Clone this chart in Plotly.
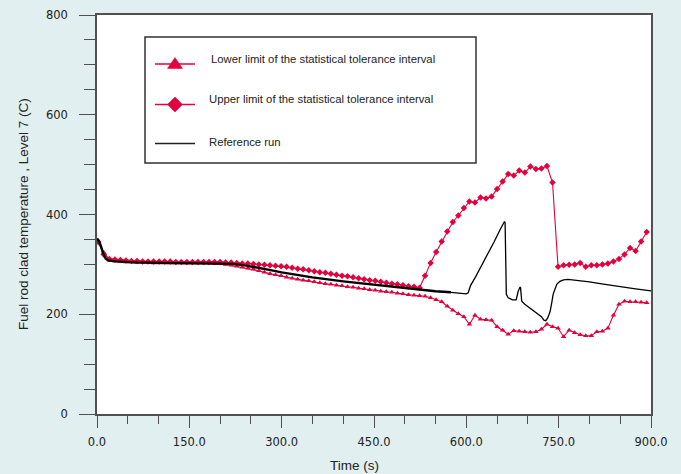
import plotly.graph_objects as go

# ---------------- data ----------------
time_ti = [2 + 9 * k for k in range(100)]  # tolerance-interval time grid (s)

upper_limit = [
    345, 320, 311, 310, 309, 308, 307, 307, 306, 306,
    306, 306, 306, 306, 305, 305, 305, 305, 305, 305,
    305, 305, 305, 304, 304, 303, 302, 302, 301, 300,
    299, 298, 297, 296, 295, 293, 291, 290, 288, 286,
    284, 283, 281, 279, 277, 276, 274, 272, 270, 268,
    267, 265, 263, 261, 260, 258, 256, 255, 253, 277,
    303, 325, 346, 366, 385, 398, 413, 426, 424, 434,
    432, 436, 451, 466, 481, 478, 488, 484, 496, 491,
    492, 497, 464, 295, 298, 299, 300, 303, 295, 298,
    298, 300, 302, 306, 311, 320, 333, 327, 346, 365,
]

lower_limit = [
    345, 324, 309, 307, 306, 305, 305, 304, 304, 304,
    303, 303, 303, 303, 303, 303, 303, 303, 303, 303,
    303, 302, 302, 300, 298, 296, 294, 292, 290, 287,
    284, 281, 279, 277, 274, 272, 270, 268, 267, 265,
    263, 261, 260, 258, 257, 255, 254, 252, 251, 249,
    248, 246, 245, 244, 242, 241, 239, 238, 237, 236,
    233, 229, 225, 216, 208, 201, 195, 180, 198, 190,
    189, 188, 175, 168, 160, 167, 166, 165, 164, 165,
    170, 180, 175, 172, 155, 168, 163, 159, 157, 157,
    165, 166, 172, 198, 220, 226, 225, 225, 224, 223,
]

time_ref = [0, 3, 6, 10, 14, 18, 30, 60, 100, 150, 200, 220, 240, 260, 280,
            300, 320, 350, 400, 450, 500, 550, 575, 600, 603, 607, 615, 625,
            635, 645, 655, 660, 662, 663, 664, 665, 668, 675, 681, 684, 687,
            688, 689, 690, 695, 705, 715, 722, 726, 729, 732, 736, 739, 741,
            744, 747, 752, 758, 765, 780, 800, 820, 850, 875, 900]
reference_run = [352, 347, 338, 322, 312, 308, 306, 304, 303, 302, 302, 301,
                 298, 294, 289, 284, 280, 274, 266, 259, 253, 246, 244, 241,
                 243, 258, 275, 298, 320, 345, 370, 384, 386, 383, 300, 240,
                 233, 229, 229, 245, 254, 254, 240, 226, 220, 211, 202, 195,
                 188, 187, 192, 205, 225, 240, 250, 260, 266, 269, 270, 268,
                 265, 261, 255, 251, 247]

x_tick_vals = [0, 150, 300, 450, 600, 750, 900]
y_tick_vals = [0, 200, 400, 600, 800]

series_names = ["Lower limit of the statistical tolerance interval",
                "Upper limit of the statistical tolerance interval",
                "Reference run"]

# ---------------- styling ----------------
RED = "#e3003c"
BG = "#e1eff0"
AXC = "#505050"
TXT = "#222222"

W, H = 681, 474
ML, MR, MT, MB = 97, 30, 15, 60
PW, PH = W - ML - MR, H - MT - MB


def px(xp):
    return (xp - ML) / PW


def py(yp):
    return (H - MB - yp) / PH


fig = go.Figure()

fig.add_trace(go.Scatter(
    x=time_ti, y=lower_limit, mode="lines+markers", name=series_names[0],
    line=dict(color=RED, width=1.1),
    marker=dict(symbol="triangle-up", size=5, color=RED),
    showlegend=False))

fig.add_trace(go.Scatter(
    x=time_ti, y=upper_limit, mode="lines+markers", name=series_names[1],
    line=dict(color=RED, width=1.1),
    marker=dict(symbol="diamond", size=5, color=RED),
    showlegend=False))

split = time_ref.index(575)
fig.add_trace(go.Scatter(
    x=time_ref[:split + 1], y=reference_run[:split + 1], mode="lines",
    name=series_names[2], line=dict(color="black", width=2.4),
    showlegend=False))
fig.add_trace(go.Scatter(
    x=time_ref[split:], y=reference_run[split:], mode="lines",
    name=series_names[2], line=dict(color="black", width=1.3),
    showlegend=False))

# ---------------- manual legend ----------------
shapes = []
annotations = []
shapes.append(dict(type="rect", xref="paper", yref="paper",
                   x0=px(145), x1=px(476), y0=py(163), y1=py(37),
                   line=dict(color="#333333", width=1.5),
                   fillcolor="white", layer="above"))
rows = [(64, 59, 209, RED, "tri"), (104.5, 99, 207, RED, "dia"),
        (143.5, 141.5, 207, "#222222", None)]
for (ly, ty, tx, col, mk), name in zip(rows, series_names):
    shapes.append(dict(type="line", xref="paper", yref="paper",
                       x0=px(155), x1=px(195), y0=py(ly), y1=py(ly),
                       line=dict(color=col, width=1.3), layer="above"))
    if mk == "tri":
        path = (f"M {px(175)},{py(57.5)} L {px(182.5)},{py(68.5)} "
                f"L {px(167.5)},{py(68.5)} Z")
    elif mk == "dia":
        path = (f"M {px(175)},{py(97)} L {px(182.5)},{py(104.5)} "
                f"L {px(175)},{py(112)} L {px(167.5)},{py(104.5)} Z")
    else:
        path = None
    if path:
        shapes.append(dict(type="path", xref="paper", yref="paper", path=path,
                           fillcolor=col, line=dict(color=col, width=0.5),
                           layer="above"))
    annotations.append(dict(text=name, xref="paper", yref="paper",
                            x=px(tx), y=py(ty), xanchor="left",
                            yanchor="middle", showarrow=False,
                            font=dict(family="Liberation Sans, Arial", size=11.3,
                                      color=TXT)))

# axis titles
annotations.append(dict(text="Time (s)", xref="paper", yref="paper",
                        x=px(354), y=py(465), xanchor="center",
                        yanchor="middle", showarrow=False,
                        font=dict(family="Liberation Sans, Arial", size=13.5,
                                  color=TXT)))
annotations.append(dict(text="Fuel rod clad temperature , Level 7 (C)",
                        xref="paper", yref="paper", x=px(23), y=py(214),
                        xanchor="center", yanchor="middle", textangle=-90,
                        showarrow=False,
                        font=dict(family="Liberation Sans, Arial", size=13.5,
                                  color=TXT)))

tickfont = dict(family="DejaVu Sans", size=11.5, color=TXT)

fig.update_layout(
    width=W, height=H,
    margin=dict(l=ML, r=MR, t=MT, b=MB, pad=0, autoexpand=False),
    paper_bgcolor=BG, plot_bgcolor="white",
    showlegend=False,
    shapes=shapes, annotations=annotations,
    xaxis=dict(range=[0, 900], tickvals=x_tick_vals, tickformat=".1f",
               ticks="outside", ticklen=12, tickwidth=1.3, tickcolor=AXC,
               showline=True, linecolor=AXC, linewidth=1.6, mirror=True,
               showgrid=False, zeroline=False, tickfont=tickfont,
               ticklabelstandoff=4, automargin=False,
               minor=dict(dtick=50, tick0=0, ticks="outside", ticklen=8,
                          tickwidth=1.3, tickcolor=AXC, showgrid=False)),
    yaxis=dict(range=[0, 800], tickvals=y_tick_vals,
               ticks="outside", ticklen=16, tickwidth=1.3, tickcolor=AXC,
               showline=True, linecolor=AXC, linewidth=1.6, mirror=True,
               showgrid=False, zeroline=False, tickfont=tickfont,
               ticklabelstandoff=9, automargin=False,
               minor=dict(dtick=50, tick0=0, ticks="outside", ticklen=11,
                          tickwidth=1.3, tickcolor=AXC, showgrid=False)),
)

page_fix = ("document.body.style.margin='0';"
            "document.body.style.overflow='hidden';"
            "document.body.style.background='" + BG + "';")

fig.write_html("out.html", post_script=page_fix,
               config={"displayModeBar": False})
